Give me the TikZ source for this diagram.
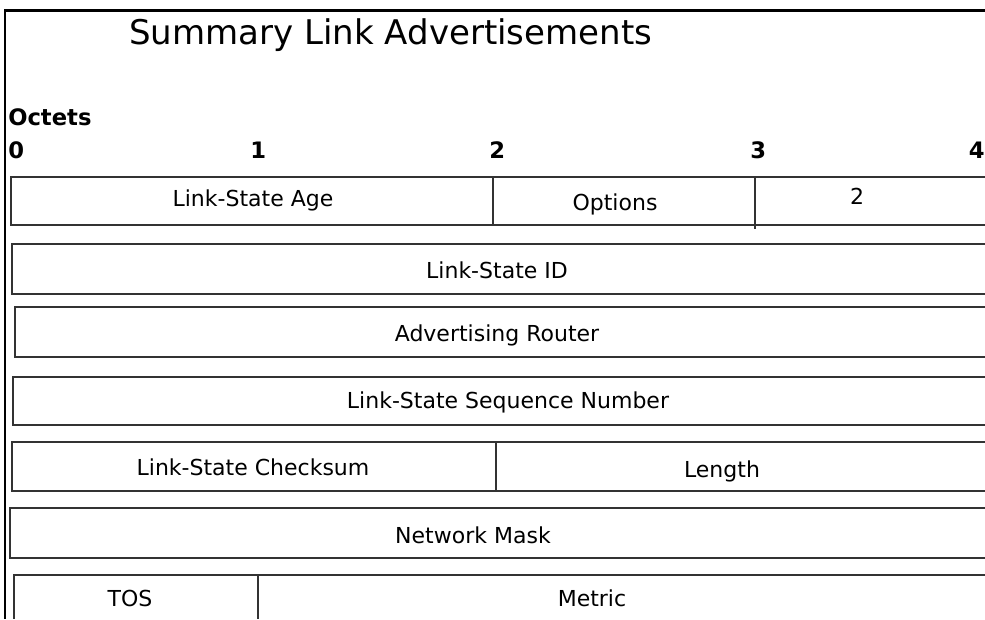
\documentclass[tikz,border=0pt]{standalone}
\usepackage{fontspec}
\setmainfont{DejaVu Sans}
\begin{document}
\begin{tikzpicture}[x=0.75pt,y=-0.75pt,
  rowline/.style={draw=black!80,line width=0.9pt},
  frame/.style={draw=black,line width=1.6pt},
  field/.style={font=\fontsize{16.5}{20}\selectfont,inner sep=0pt},
  octet/.style={font=\fontsize{17}{20}\selectfont\bfseries,inner sep=0pt,anchor=base west},
  titletext/.style={font=\fontsize{25.5}{30}\selectfont,inner sep=0pt,anchor=base west}]
\useasboundingbox (0,0) rectangle (985,619);
% outer frame
\draw[frame] (985,10.5) -- (5,10.5) -- (5,619);
% title and scale
\node[titletext] (title) at (129,44) {Summary Link Advertisements};
\node[octet] (oct) at (8,125) {Octets};
\node[octet] (n0) at (8,158) {0};
\node[octet] (n1) at (250,158) {1};
\node[octet] (n2) at (489,158) {2};
\node[octet] (n3) at (750,158) {3};
\node[octet,anchor=base east] (n4) at (985,158) {4};
% row 1
\draw[rowline] (985,177) -- (11,177) -- (11,225) -- (985,225);
\draw[rowline] (493,177) -- (493,225);
\draw[rowline] (755,178) -- (755,229);
\node[field] (age) at (253,200) {Link-State Age};
\node[field] (opt) at (615,204) {Options};
\node[field] (typ) at (857,196) {2};
% row 2
\draw[rowline] (985,244) -- (12,244) -- (12,294) -- (985,294);
\node[field] (lsid) at (497,270) {Link-State ID};
% row 3
\draw[rowline] (985,307) -- (15,307) -- (15,357) -- (985,357);
\node[field] (adv) at (497,335) {Advertising Router};
% row 4
\draw[rowline] (985,377) -- (13,377) -- (13,425) -- (985,425);
\node[field] (seq) at (508,402) {Link-State Sequence Number};
% row 5
\draw[rowline] (985,442) -- (12,442) -- (12,491) -- (985,491);
\draw[rowline] (496,442) -- (496,491);
\node[field] (chk) at (253,467) {Link-State Checksum};
\node[field] (len) at (722,471) {Length};
% row 6
\draw[rowline] (985,508) -- (10,508) -- (10,558) -- (985,558);
\node[field] (mask) at (473,535) {Network Mask};
% row 7
\draw[rowline] (985,575) -- (14,575) -- (14,619);
\draw[rowline] (258,574) -- (258,619);
\node[field] (tos) at (130,598) {TOS};
\node[field] (met) at (592,598) {Metric};
\end{tikzpicture}
\end{document}
